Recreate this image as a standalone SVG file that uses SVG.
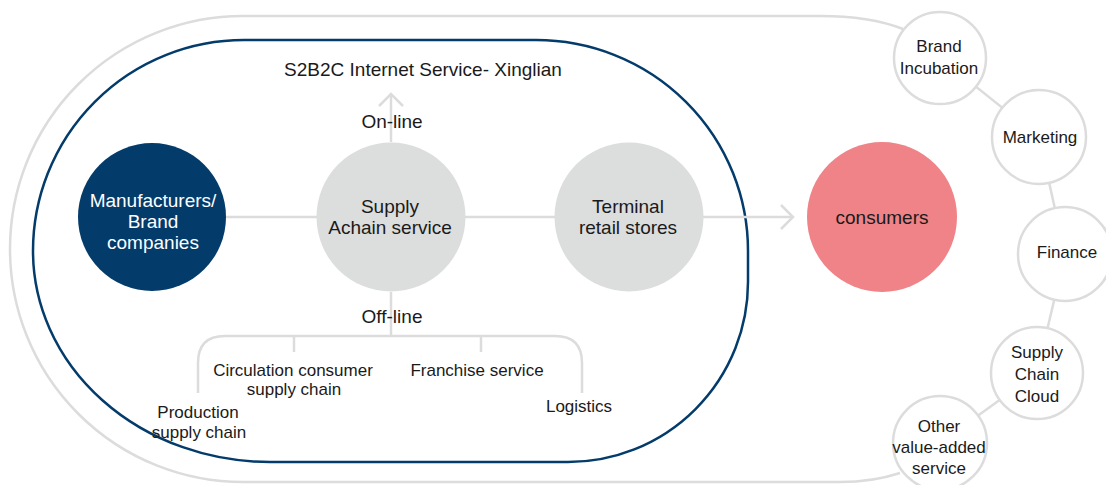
<svg xmlns="http://www.w3.org/2000/svg" width="1106" height="485" viewBox="0 0 1106 485">
  <defs>
    <style>
      .t{font-family:"Liberation Sans",Arial,Helvetica,sans-serif;fill:#1a1a1a;text-anchor:middle}
      .big{font-size:19px}
      .sm{font-size:17px}
      .white{fill:#ffffff}
      .conn{stroke:#dcdcdc;stroke-width:2.5;fill:none}
      .gnode{fill:#dcdddd}
      .wnode{fill:#ffffff;stroke:#dcdcdc;stroke-width:2.5}
    </style>
    <marker id="chev" markerUnits="userSpaceOnUse" viewBox="-14 -14 16 28" refX="0" refY="0" markerWidth="16" markerHeight="28" orient="auto">
      <path d="M-12,-12 L0,0 L-12,12" fill="none" stroke="#dcdcdc" stroke-width="2.5"/>
    </marker>
  </defs>
  <rect width="1106" height="485" fill="#ffffff"/>

  <!-- frames -->
  <g id="frames">
    <path d="M903,29 C880,20 855,16 820,16 L243,16 A233,233 0 0 0 243,482 L840,482 C865,482 885,478 900,473" fill="none" stroke="#dcdcdc" stroke-width="2.5"/>
    <path d="M536,40 L244,40 A211,211 0 0 0 33,251 A237,211 0 0 0 270,462 L568,462 A180,180 0 0 0 748,282 L748,251 A212,211 0 0 0 536,40 Z" fill="none" stroke="#033b6b" stroke-width="2.5"/>
    <text class="t big" x="423" y="76">S2B2C Internet Service- Xinglian</text>
  </g>

  <!-- connectors -->
  <g id="connectors">
    <line class="conn" x1="226" y1="217" x2="317" y2="217"/>
    <line class="conn" x1="465" y1="217" x2="555" y2="217"/>
    <line class="conn" x1="703" y1="217" x2="793" y2="217" marker-end="url(#chev)"/>
    <line class="conn" x1="391" y1="142" x2="391" y2="94" marker-end="url(#chev)"/>
    <line class="conn" x1="391" y1="292" x2="391" y2="336"/>
    <path class="conn" d="M198,393 V363 Q198,336 225,336 H555 Q582,336 582,363 V393"/>
    <line class="conn" x1="294" y1="336" x2="294" y2="352"/>
    <line class="conn" x1="481" y1="336" x2="481" y2="352"/>
    <line class="conn" x1="940" y1="58" x2="1039" y2="137"/>
    <line class="conn" x1="1039" y1="137" x2="1065" y2="254"/>
    <line class="conn" x1="1065" y1="254" x2="1037" y2="373"/>
    <line class="conn" x1="1037" y1="373" x2="940" y2="443"/>
    <text class="t big" x="392" y="128">On-line</text>
    <text class="t big" x="392" y="323">Off-line</text>
  </g>

  <g id="manufacturers">
    <circle cx="152" cy="217" r="74" fill="#033b6b"/>
    <text class="t big white" x="153" y="207">Manufacturers/</text>
    <text class="t big white" x="153" y="228">Brand</text>
    <text class="t big white" x="153" y="249">companies</text>
  </g>
  <g id="supply-chain-service">
    <circle class="gnode" cx="391" cy="217" r="74.5"/>
    <text class="t big" x="390" y="213">Supply</text>
    <text class="t big" x="390" y="234">Achain service</text>
  </g>
  <g id="terminal-retail">
    <circle class="gnode" cx="629" cy="217" r="74.5"/>
    <text class="t big" x="628" y="213">Terminal</text>
    <text class="t big" x="628" y="234">retail stores</text>
  </g>
  <g id="consumers">
    <circle cx="882" cy="217" r="75" fill="#ef8387"/>
    <text class="t big" x="882" y="224">consumers</text>
  </g>

  <g id="production-supply-chain">
    <text class="t sm" x="198" y="418">Production</text>
    <text class="t sm" x="199" y="438">supply chain</text>
  </g>
  <g id="circulation-supply-chain">
    <text class="t sm" x="293" y="376">Circulation consumer</text>
    <text class="t sm" x="294" y="395">supply chain</text>
  </g>
  <g id="franchise-service">
    <text class="t sm" x="477" y="376">Franchise service</text>
  </g>
  <g id="logistics">
    <text class="t sm" x="579" y="412">Logistics</text>
  </g>

  <g id="brand-incubation">
    <circle class="wnode" cx="940" cy="58" r="46"/>
    <text class="t sm" x="939" y="52">Brand</text>
    <text class="t sm" x="939" y="74">Incubation</text>
  </g>
  <g id="marketing">
    <circle class="wnode" cx="1039" cy="137" r="47"/>
    <text class="t sm" x="1040" y="143">Marketing</text>
  </g>
  <g id="finance">
    <circle class="wnode" cx="1065" cy="254" r="47"/>
    <text class="t sm" x="1067" y="258">Finance</text>
  </g>
  <g id="supply-chain-cloud">
    <circle class="wnode" cx="1037" cy="373" r="46"/>
    <text class="t sm" x="1037" y="358">Supply</text>
    <text class="t sm" x="1037" y="380">Chain</text>
    <text class="t sm" x="1037" y="402">Cloud</text>
  </g>
  <g id="other-value-added">
    <circle class="wnode" cx="940" cy="443" r="47"/>
    <text class="t sm" x="939" y="432">Other</text>
    <text class="t sm" x="939" y="453">value-added</text>
    <text class="t sm" x="939" y="474">service</text>
  </g>
</svg>
